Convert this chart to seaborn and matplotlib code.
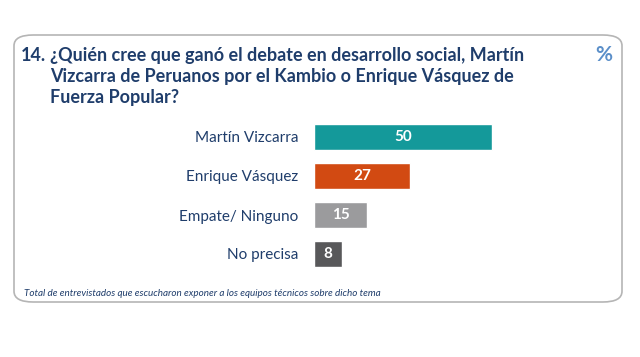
import matplotlib
matplotlib.use("Agg")
import matplotlib.pyplot as plt
import seaborn as sns
import pandas as pd
from matplotlib.patches import FancyBboxPatch

# Datos de la encuesta
categorias = ["Martín Vizcarra", "Enrique Vásquez", "Empate/ Ninguno", "No precisa"]
valores = [50, 27, 15, 8]
colores = ["#14999a", "#d24a12", "#9b9b9d", "#58585a"]

numero = "14."
titulo = ("¿Quién cree que ganó el debate en desarrollo social, Martín\n"
          "Vizcarra de Peruanos por el Kambio o Enrique Vásquez de\n"
          "Fuerza Popular?")
nota = "Total de entrevistados que escucharon exponer a los equipos técnicos sobre dicho tema"

AZUL = "#1f3d6b"

sns.set_theme(style="white")
plt.rcParams['font.family'] = ['Lato', 'DejaVu Sans']

df = pd.DataFrame({"categoria": categorias, "valor": valores})

fig = plt.figure(figsize=(6.4, 3.57), dpi=100)
fig.patch.set_facecolor("white")

# Marco redondeado (detras de los ejes)
marco = FancyBboxPatch((14 / 640, 1 - 302 / 357), 608 / 640, 267 / 357,
                       boxstyle="round,pad=0,rounding_size=0.03",
                       transform=fig.transFigure, facecolor="white",
                       edgecolor="#b5b5b5", linewidth=1.2, zorder=-1)
fig.patches.append(marco)

ax = fig.add_axes([314 / 640, 1 - 273.5 / 357, 286 / 640, 156 / 357])
ax.set_zorder(2)
sns.barplot(data=df, x="valor", y="categoria", hue="categoria",
            palette=colores, legend=False, width=0.67, ax=ax, saturation=1)
ax.set_xlim(0, 286 / 3.56)
ax.set_xlabel("")
ax.set_ylabel("")
ax.set_xticks([])
ax.tick_params(axis="y", length=0, pad=11.5, labelsize=11, labelcolor=AZUL)
sns.despine(ax=ax, left=True, bottom=True)
ax.patch.set_alpha(0)

for barra, v in zip(ax.patches, valores):
    ax.text(barra.get_x() + barra.get_width() / 2, barra.get_y() + barra.get_height() / 2,
            str(v), ha="center", va="center", color="white",
            fontsize=11, fontweight="bold")

fig.text(21 / 640, 1 - 47 / 357, numero, ha="left", va="top", fontsize=13,
         fontweight="bold", color=AZUL)
fig.text(50 / 640, 1 - 47 / 357, titulo, ha="left", va="top", fontsize=13,
         fontweight="bold", color=AZUL, linespacing=1.3)
fig.text(604 / 640, 1 - 55 / 357, "%", ha="center", va="center", fontsize=15,
         fontweight="bold", color="#5b8fc9")
fig.text(24 / 640, 1 - 294 / 357, nota, ha="left", va="center", fontsize=7.1,
         style="italic", color=AZUL)

fig.savefig("out.png", dpi=100, facecolor="white")
